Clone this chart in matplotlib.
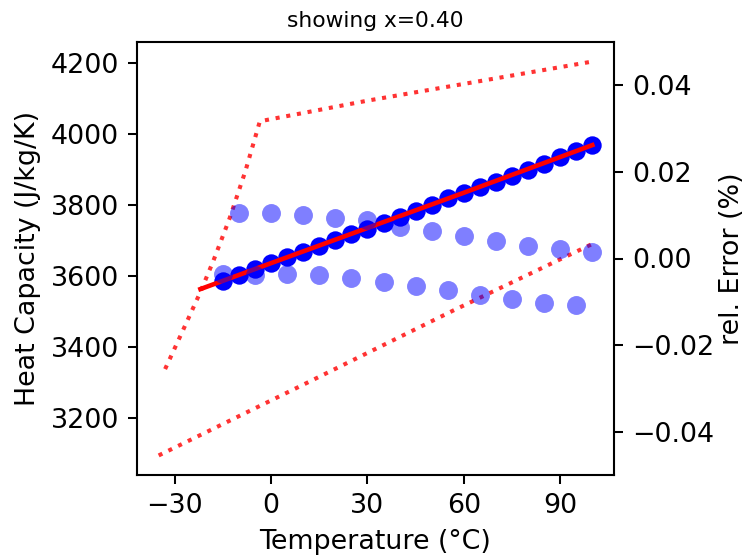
import numpy as np
import matplotlib
matplotlib.use("Agg")
import matplotlib.pyplot as plt

# misure (punti blu scuri)
temp_misure = [-15, -10, -5, 0, 5, 10, 15, 20, 25, 30, 35, 40, 45, 50,
               55, 60, 65, 70, 75, 80, 85, 90, 95, 100]
cp_misure = [3586, 3603, 3619, 3635, 3652, 3668, 3684, 3701, 3717, 3732,
             3749, 3766, 3782, 3799, 3818, 3834, 3849, 3865, 3881, 3899,
             3916, 3935, 3952, 3968]

# curva del modello
temp_fit = [-22, 0, 30, 60, 100]
cp_fit = [3563, 3636, 3735, 3834, 3968]

# limiti (linee tratteggiate)
temp_lim_sup = [-33, -28, -22, -18, -13, -8, -3.5, 30, 100]
cp_lim_sup = [3338, 3436, 3555, 3642, 3760, 3895, 4035, 4093, 4203]
temp_lim_inf = [-35, 10, 57, 100]
cp_lim_inf = [3095, 3294, 3504, 3690]

# errore relativo
temp_err_a = [-10, 0, 10, 20, 30, 40, 50, 60, 70, 80, 90, 100]
err_a = [0.0104, 0.0104, 0.0100, 0.0094, 0.0088, 0.0073, 0.0064, 0.0051,
         0.0041, 0.0030, 0.0022, 0.0015]
temp_err_b = [-15, -5, 5, 15, 25, 35, 45, 55, 65, 75, 85, 95]
err_b = [-0.0035, -0.0038, -0.0036, -0.0039, -0.0045, -0.0054, -0.0063,
         -0.0073, -0.0084, -0.0093, -0.0102, -0.0107]

plt.rcParams['font.size'] = 10.5

dpi = 184
fig = plt.figure(figsize=(748 / dpi, 555 / dpi), dpi=dpi)
ax = fig.add_axes([137 / 748, 80 / 555, 477 / 748, 433 / 555])

ax.plot(temp_lim_sup, cp_lim_sup, ':', color='r', alpha=0.8, lw=1.6)
ax.plot(temp_lim_inf, cp_lim_inf, ':', color='r', alpha=0.8, lw=1.6)
ax.plot(temp_misure, cp_misure, 'o', color='b', ms=7.2, mew=0)
ax.plot(temp_fit, cp_fit, '-', color='r', lw=1.8)

ax.set_xlim(-41.75, 106.75)
ax.set_ylim(3040, 4258)
ax.set_xticks([-30, 0, 30, 60, 90])
ax.set_yticks([3200, 3400, 3600, 3800, 4000, 4200])
ax.set_xlabel('Temperature (°C)')
ax.set_ylabel('Heat Capacity (J/kg/K)')
ax.set_title('showing x=0.40', fontsize=8.5)

ax2 = ax.twinx()
ax2.plot(temp_err_a, err_a, 'o', color='b', alpha=0.5, ms=7.4, mew=0)
ax2.plot(temp_err_b, err_b, 'o', color='b', alpha=0.5, ms=7.4, mew=0)
ax2.set_ylim(-0.05, 0.05)
ax2.set_yticks([-0.04, -0.02, 0.0, 0.02, 0.04])
ax2.set_ylabel('rel. Error (%)', labelpad=2)

fig.savefig('out.png', dpi=dpi)
